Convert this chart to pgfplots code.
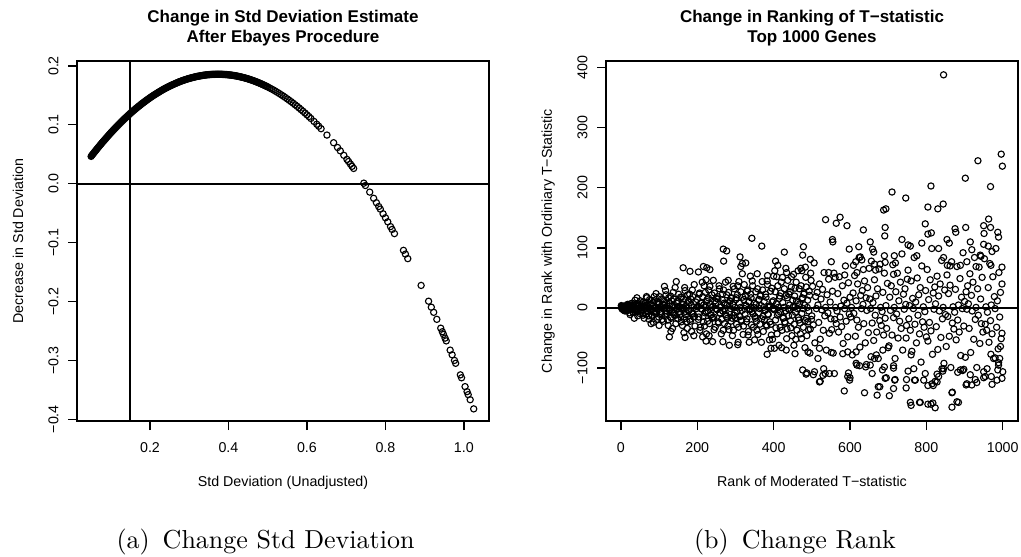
\documentclass[border=0pt]{standalone}
\usepackage{fontspec}
\usepackage{pgfplots}
\pgfplotsset{compat=1.18}
\newfontfamily\plotfont{Liberation Sans}
\newcommand\tickfont{\plotfont\fontsize{5.7}{6.8}\selectfont}
\newcommand\titlefont{\plotfont\bfseries\fontsize{6.8}{8}\selectfont}
\begin{document}
\begin{tikzpicture}
\useasboundingbox (0,0) rectangle (408.4pt,222.4pt);
\pgfplotsset{rstyle/.style={
  scale only axis, width=164.8pt, height=144pt, anchor=south west,
  axis line style={line width=0.5pt},
  tick align=outside, xtick pos=left, ytick pos=left,
  major tick length=3.6pt, tick style={line width=0.5pt, black},
  ticklabel style={font=\tickfont, inner sep=0pt},
  yticklabel style={rotate=90, anchor=south},
  xticklabel style={anchor=north},
  xticklabel shift=4.8pt, yticklabel shift=3.6pt,
  clip=true,
}, rmark/.style={only marks, mark=o, mark size=1.25pt, mark options={line width=0.45pt}, black},
   rdense/.style={only marks, mark=*, mark size=1.25pt, mark options={line width=0.45pt, fill=black}, black}}
% ---------------- left plot
\begin{axis}[rstyle, at={(30.8pt,54pt)},
  xmin=0.014, xmax=1.064, ymin=-0.403, ymax=0.2085,
  xtick={0.2,0.4,0.6,0.8,1.0}, xticklabels={0.2,0.4,0.6,0.8,1.0},
  ytick={-0.4,-0.3,-0.2,-0.1,0,0.1,0.2},
  yticklabels={−0.4,−0.3,−0.2,−0.1,0.0,0.1,0.2}]
% dense part of the curve (overlapping circles read as a solid band)
\addplot[rdense] coordinates {
(0.050,0.0465)(0.055,0.0508)(0.060,0.0550)(0.065,0.0592)(0.070,0.0633)(0.075,0.0673)(0.080,0.0712)(0.085,0.0751)(0.090,0.0789)(0.095,0.0827)(0.100,0.0864)(0.105,0.0900)(0.110,0.0935)(0.115,0.0970)(0.120,0.1004)(0.125,0.1038)(0.130,0.1071)(0.135,0.1103)(0.140,0.1134)(0.145,0.1165)(0.150,0.1195)(0.155,0.1225)(0.160,0.1254)(0.165,0.1282)(0.170,0.1309)(0.175,0.1336)(0.180,0.1362)(0.185,0.1388)(0.190,0.1412)(0.195,0.1437)(0.200,0.1460)(0.205,0.1483)(0.210,0.1505)(0.215,0.1526)(0.220,0.1547)(0.225,0.1567)(0.230,0.1587)(0.235,0.1606)(0.240,0.1624)(0.245,0.1641)(0.250,0.1658)(0.255,0.1674)(0.260,0.1689)(0.265,0.1704)(0.270,0.1718)(0.275,0.1732)(0.280,0.1745)(0.285,0.1757)(0.290,0.1768)(0.295,0.1779)(0.300,0.1789)(0.305,0.1798)(0.310,0.1807)(0.315,0.1815)(0.320,0.1823)(0.325,0.1829)(0.330,0.1835)(0.335,0.1841)(0.340,0.1846)(0.345,0.1850)(0.350,0.1853)(0.355,0.1856)(0.360,0.1858)(0.365,0.1859)(0.370,0.1860)(0.375,0.1860)(0.380,0.1860)(0.385,0.1858)(0.390,0.1856)(0.395,0.1854)(0.400,0.1850)(0.405,0.1847)(0.410,0.1842)(0.415,0.1837)(0.420,0.1831)(0.425,0.1824)(0.430,0.1817)(0.435,0.1809)(0.440,0.1800)(0.445,0.1791)(0.450,0.1781)(0.455,0.1770)(0.460,0.1759)
(0.0525,0.04865)(0.0575,0.0529)(0.0625,0.0571)(0.0675,0.06125)(0.0725,0.0653)(0.0775,0.06925)(0.0825,0.07315)(0.0875,0.0770)(0.0925,0.0808)(0.0975,0.08455)(0.1025,0.0882)(0.1075,0.09175)(0.1125,0.09525)(0.1175,0.0987)(0.1225,0.1021)(0.1275,0.10545)(0.1325,0.1087)(0.1375,0.11185)(0.1425,0.11495)(0.1475,0.1180)(0.1525,0.1210)(0.1575,0.12395)(0.1625,0.1268)(0.1675,0.12955)(0.1725,0.13225)(0.1775,0.1349)(0.1825,0.1375)(0.1875,0.1400)(0.1925,0.14245)(0.1975,0.14485)(0.2025,0.14715)(0.2075,0.1494)(0.2125,0.15155)(0.2175,0.15365)(0.2225,0.1557)(0.2275,0.1577)(0.2325,0.15965)(0.2375,0.1615)(0.2425,0.16325)(0.2475,0.16495)(0.2525,0.1666)(0.2575,0.16815)(0.2625,0.16965)(0.2675,0.1711)(0.2725,0.1725)(0.2775,0.17385)(0.2825,0.1751)(0.2875,0.17625)(0.2925,0.17735)(0.2975,0.1784)(0.3025,0.17935)(0.3075,0.18025)(0.3125,0.1811)(0.3175,0.1819)(0.3225,0.1826)(0.3275,0.1832)(0.3325,0.1838)(0.3375,0.18435)(0.3425,0.1848)(0.3475,0.18515)(0.3525,0.18545)(0.3575,0.1857)(0.3625,0.18585)(0.3675,0.18595)(0.3725,0.1860)(0.3775,0.1860)(0.3825,0.1859)(0.3875,0.1857)(0.3925,0.1855)(0.3975,0.1852)(0.4025,0.18485)(0.4075,0.18445)(0.4125,0.18395)(0.4175,0.1834)(0.4225,0.18275)(0.4275,0.18205)(0.4325,0.1813)(0.4375,0.18045)(0.4425,0.17955)(0.4475,0.1786)(0.4525,0.17755)(0.4575,0.17645)
};
\addplot[rmark] coordinates {
(0.4625,0.1753)(0.465,0.1747)(0.4675,0.17405)(0.470,0.1734)(0.4725,0.17275)(0.475,0.1721)(0.4775,0.1714)(0.480,0.1707)(0.4825,0.16995)(0.485,0.1692)(0.4875,0.16845)(0.490,0.1677)(0.4925,0.1669)(0.495,0.1661)(0.4975,0.1653)(0.500,0.1645)(0.505,0.1627)(0.510,0.1609)(0.515,0.1591)(0.520,0.1571)(0.525,0.1551)(0.530,0.1531)(0.535,0.1509)(0.540,0.1487)(0.545,0.1465)(0.550,0.1441)(0.555,0.1417)(0.560,0.1393)(0.565,0.1367)(0.570,0.1341)(0.575,0.1315)(0.580,0.1287)(0.585,0.1259)(0.590,0.1231)(0.595,0.1201)(0.600,0.1171)(0.605,0.1141)(0.610,0.1109)(0.618,0.1058)(0.625,0.1011)(0.630,0.0977)(0.636,0.0935)(0.651,0.0827)(0.668,0.0697)(0.678,0.0616)(0.685,0.0559)(0.694,0.0483)(0.702,0.0413)(0.706,0.0378)(0.711,0.0333)(0.715,0.0296)(0.719,0.0260)(0.745,0.0010)(0.749,-0.0030)(0.760,-0.0142)(0.770,-0.0247)(0.777,-0.0322)(0.783,-0.0387)(0.787,-0.0431)(0.794,-0.0510)(0.800,-0.0578)(0.806,-0.0647)(0.813,-0.0728)(0.817,-0.0776)(0.823,-0.0847)(0.846,-0.1131)(0.851,-0.1195)(0.857,-0.1272)(0.891,-0.1727)(0.910,-0.1995)(0.917,-0.2097)(0.923,-0.2184)(0.931,-0.2303)(0.941,-0.2453)(0.945,-0.2514)(0.948,-0.2560)(0.952,-0.2622)(0.955,-0.2669)(0.965,-0.2826)(0.970,-0.2905)(0.976,-0.3001)(0.979,-0.3050)(0.991,-0.3246)(0.994,-0.3296)(1.003,-0.3446)(1.008,-0.3531)(1.011,-0.3582)(1.016,-0.3668)(1.025,-0.3824)
};
\addplot[black, line width=0.8pt] coordinates {(0.014,0) (1.064,0)};
\addplot[black, line width=0.8pt] coordinates {(0.15,-0.403) (0.15,0.2085)};
\end{axis}
% ---------------- right plot
\begin{axis}[rstyle, at={(242.4pt,54pt)},
  xmin=-39, xmax=1040, ymin=-188, ymax=411,
  xtick={0,200,400,600,800,1000}, xticklabels={0,200,400,600,800,1000},
  ytick={-100,0,100,200,300,400},
  yticklabels={−100,0,100,200,300,400}]
\addplot[rdense] coordinates {
(1,4)(2,0)(3,-1)(4,-2)(5,0)(6,3)(7,-3)(8,-4)(9,3)(10,1)(11,-5)(12,0)(13,1)(14,3)(15,0)(16,-3)(17,6)(18,5)(19,-4)(20,-1)
};
\addplot[rmark] coordinates {
(22,0)(24,-11)(26,4)(28,-1)(30,8)(32,-7)(34,2)(36,-3)(38,6)(40,-5)
(42,17)(44,-13)(46,4)(48,0)(50,6)(52,1)(54,-5)(56,9)(58,-12)(60,3)
(62,-1)(64,9)(66,-10)(68,17)(70,-4)(72,0)(74,-19)(76,6)(78,-2)(80,13)
(82,-14)(84,3)(86,-6)(88,12)(90,-9)(92,24)(94,-19)(96,6)(98,0)(100,9)
(102,2)(104,-9)(106,15)(108,-19)(110,6)(112,-1)(114,11)(116,-14)(118,22)(120,-5)
(122,0)(124,-29)(126,9)(128,-3)(130,20)(132,-17)(134,4)(136,-7)(138,15)(140,-12)
(142,34)(144,-26)(146,8)(148,-1)(150,12)(152,2)(154,-11)(156,18)(158,-23)(160,7)
(162,-2)(164,15)(166,-18)(168,29)(170,-6)(172,0)(174,-34)(176,11)(178,-4)(180,23)
(182,-22)(184,5)(186,-9)(188,19)(190,-15)(192,39)(194,-30)(196,10)(198,-1)(200,14)
(21,1)(23,-8)(25,7)(27,-2)(29,3)(31,-6)(33,5)(35,-17)(37,13)(39,-4)(41,0)(43,-6)(45,-1)(47,5)(49,-9)(51,12)(53,-3)(55,1)(57,-9)(59,10)(61,-17)(63,4)(65,0)(67,19)(69,-6)(71,2)(73,-13)(75,14)(77,-3)(79,6)(81,-12)(83,9)(85,-24)(87,19)(89,-6)(91,0)(93,-9)(95,-2)(97,9)(99,-15)(101,19)(103,-6)(105,1)(107,-11)(109,14)(111,-22)(113,5)(115,0)(117,29)(119,-9)(121,3)(123,-20)(125,17)(127,-4)(129,7)(131,-15)(133,12)(135,-34)(137,26)(139,-8)(141,1)(143,-12)(145,-2)(147,11)(149,-18)(151,23)(153,-7)(155,2)(157,-15)(159,18)(161,-29)(163,6)(165,0)(167,34)(169,-11)(171,4)(173,-23)(175,22)(177,-5)(179,9)(181,-19)(183,15)(185,-39)(187,30)(189,-10)(191,1)(193,-14)
(201,2)(203,-19)(205,23)(207,-37)(209,8)(211,-1)(213,43)(215,-14)(217,5)(219,-30)(221,26)(223,-6)(225,11)(227,-22)(229,17)(231,-46)(233,36)(235,-12)(237,1)(239,-16)(241,3)(243,-15)(245,25)(247,-32)(249,9)(251,-2)(253,19)(255,-23)(257,37)(259,-8)(261,1)(263,-43)(265,14)(267,-5)(269,30)(271,-26)(273,6)(275,-11)(277,22)(279,-17)(281,46)(283,-36)(285,12)(287,-1)(289,16)
(291,-17)(293,6)(295,-37)(297,32)(299,-8)(301,14)(303,-27)(305,22)(307,-57)(309,44)(311,-14)(313,1)(315,-20)(317,-4)(319,18)(321,-30)(323,39)(325,-11)(327,3)(329,-23)(331,28)(333,-45)(335,10)(337,-1)(339,53)
(341,17)(343,-6)(345,37)(347,-32)(349,8)(351,-14)(353,27)(355,-22)(357,57)(359,-44)(361,14)(363,-1)(365,20)(367,4)(369,-18)(371,30)(373,-39)(375,11)(377,-3)(379,23)(381,-28)(383,45)(385,-10)(387,1)(389,-53)
(391,3)(393,-27)(395,33)(397,-52)(399,12)(401,-1)(403,62)(405,-20)(407,7)(409,-43)(411,37)(413,-9)(415,16)(417,-32)(419,25)(421,-66)(423,51)(425,-17)(427,1)(429,-23)(431,-5)(433,21)(435,-35)(437,46)(439,-13)
(441,-3)(443,27)(445,-33)(447,52)(449,-12)(451,1)(453,-62)(455,20)(457,-7)(459,43)(461,-37)(463,9)(465,-16)(467,32)(469,-25)(471,66)(473,-51)(475,17)(477,-1)(479,23)(481,5)(483,-21)(485,35)(487,-46)(489,13)(491,-36)(493,28)(495,-75)(497,58)(499,-19)
(202,3)(204,-15)(206,25)(208,-32)(210,9)(212,-2)(214,19)(216,-23)(218,37)(220,-8)(222,1)(224,-43)(226,14)(228,-5)(230,30)(232,-26)(234,6)(236,-11)(238,22)(240,-17)(242,46)(244,-36)(246,12)(248,-1)(250,16)
(252,-3)(254,15)(256,-25)(258,32)(260,-9)(262,2)(264,-19)(266,23)(268,-37)(270,8)(272,-1)(274,43)(276,-14)(278,5)(280,-30)(282,26)(284,-6)(286,11)(288,-22)(290,17)(292,-46)(294,36)(296,-12)(298,1)(300,-16)
(302,17)(304,-6)(306,37)(308,-32)(310,8)(312,-14)(314,27)(316,-22)(318,57)(320,-44)(322,14)(324,-1)(326,20)(328,4)(330,-18)(332,30)(334,-39)(336,11)(338,-3)(340,23)(342,-28)(344,45)(346,-10)(348,1)(350,-53)
(352,-17)(354,6)(356,-37)(358,32)(360,-8)(362,14)(364,-27)(366,22)(368,-57)(370,44)(372,-14)(374,1)(376,-20)(378,-4)(380,18)(382,-30)(384,39)(386,-11)(388,3)(390,-23)(392,28)(394,-45)(396,10)(398,-1)(400,53)
(402,-3)(404,27)(406,-33)(408,52)(410,-12)(412,1)(414,-62)(416,20)(418,-7)(420,43)(422,-37)(424,9)(426,-16)(428,32)(430,-25)(432,66)(434,-51)(436,17)(438,-1)(440,23)(442,5)(444,-21)(446,35)(448,-46)(450,13)
(452,3)(454,-27)(456,33)(458,-52)(460,12)(462,-1)(464,62)(466,-20)(468,7)(470,-43)(472,37)(474,-9)(476,16)(478,-32)(480,25)(482,-66)(484,51)(486,-17)(488,1)(490,-23)(492,-5)(494,21)(496,-35)(498,46)(500,-13)
(502,36)(504,-28)(506,75)(508,-58)(510,19)(512,-1)(514,26)(516,5)(518,-24)(520,40)(522,-52)(524,15)(526,-3)(528,31)(530,-37)(532,59)(534,-13)(536,1)(538,-70)(540,22)(542,-8)(544,48)(546,-42)(548,10)(550,-18)
(552,-36)(554,28)(556,-75)(558,58)(560,-19)(562,1)(564,-26)(566,-5)(568,24)(570,-40)(572,52)(574,-15)(576,3)(578,-31)(580,37)(582,-59)(584,13)(586,-1)(588,70)(590,-22)(592,8)(594,-48)(596,42)(598,-10)(600,18)
(602,-15)(604,1)(606,-78)(608,25)(610,-9)(612,54)(614,-47)(616,12)(618,-20)(620,40)(622,-32)(624,84)(626,-65)(628,21)(630,-1)(632,29)(634,6)(636,-26)(638,45)(640,-58)(642,17)(644,-4)(646,34)(648,-41)(650,66)
(652,15)(654,-1)(656,78)(658,-25)(660,9)(662,-54)(664,47)(666,-12)(668,20)(670,-40)(672,32)(674,-84)(676,65)(678,-21)(680,1)(682,-29)(684,-6)(686,26)(688,-45)(690,58)(692,-17)(694,4)(696,-34)(698,41)(700,-66)
(702,-63)(704,18)(706,-4)(708,37)(710,-45)(712,72)(714,-16)(716,1)(718,-84)(720,27)(722,-10)(724,58)(726,-50)(728,12)(730,-22)(732,43)(734,-34)(736,90)(738,-70)(740,23)(742,-2)(744,32)(746,6)(748,-29)(750,48)
(752,63)(754,-18)(756,4)(758,-37)(760,45)(762,-72)(764,16)(766,-1)(768,84)(770,-27)(772,10)(774,-58)(776,50)(778,-12)(780,22)(782,-43)(784,34)(786,-90)(788,70)(790,-23)(792,2)(794,-32)(796,-6)(798,29)(800,-48)
(802,64)(804,-55)(806,14)(808,-24)(810,47)(812,-38)(814,99)(816,-77)(818,25)(820,-2)(822,35)(824,7)(826,-31)(828,53)(830,-69)(832,20)(834,-5)(836,40)(838,-49)(840,79)(842,-18)(844,1)(846,-92)(848,30)(850,-11)
(852,-64)(854,55)(856,-14)(858,24)(860,-47)(862,38)(864,-99)(866,77)(868,-25)(870,2)(872,-35)(874,-7)(876,31)(878,-53)(880,69)(882,-20)(884,5)(886,-40)(888,49)(890,-79)(892,18)(894,-1)(896,92)(898,-30)(900,11)
(902,-82)(904,27)(906,-2)(908,37)(910,7)(912,-34)(914,57)(916,-74)(918,21)(920,-5)(922,43)(924,-52)(926,84)(928,-19)(930,1)(932,-99)(934,32)(936,-12)(938,68)(940,-59)(942,15)(944,-26)(946,51)(948,-40)(950,106)
(952,82)(954,-27)(956,2)(958,-37)(960,-7)(962,34)(964,-57)(966,74)(968,-21)(970,5)(972,-43)(974,52)(976,-84)(978,19)(980,-1)(982,99)(984,-32)(986,12)(988,-68)(990,59)(992,-15)(994,26)(996,-51)(998,40)(1000,-106)
(845,388)(996,256)(999,236)(935,245)(902,216)(968,202)(812,203)(844,173)(830,165)(804,168)(746,183)(710,193)(688,163)(694,165)(692,134)(691,120)(635,130)(574,151)(564,141)(592,137)(536,147)(554,114)(555,110)(551,77)(623,102)(598,98)(653,110)(659,98)(662,93)(679,73)(664,73)(690,87)(716,87)(736,114)(752,105)(758,103)(775,87)(788,108)(797,140)(804,123)(813,125)(832,99)(854,114)(860,108)(845,84)(875,132)(877,126)(903,134)(915,110)(919,97)(941,88)(943,86)(950,137)(951,124)(963,148)(968,134)(962,103)(972,94)(987,126)(989,118)(998,68)(969,71)(930,69)(906,77)(889,71)(862,70)(855,71)(719,75)(714,56)(692,76)(667,63)(635,64)(618,59)(609,71)(615,77)(627,85)(631,80)(478,102)(476,88)(496,81)(428,93)(405,78)(411,71)(369,103)(343,116)(312,85)(318,74)(327,75)(314,69)(268,98)(277,95)(269,78)(233,64)(216,69)(225,67)(203,60)(181,61)(163,67)(384,54)(434,59)(452,56)(474,62)(483,68)(544,59)(561,51)(586,55)(114,36)(145,44)(223,47)
(79,-26)(100,-29)(127,-48)(131,-39)(168,-49)(165,-41)(191,-46)(214,-48)(223,-55)(383,-77)(393,-67)(402,-67)(476,-103)(485,-110)(456,-76)(433,-70)(336,-57)(306,-61)(284,-62)(240,-56)(267,-56)(490,-73)
(760,-162)(585,-138)(638,-141)(671,-145)(678,-131)(714,-134)(717,-120)(747,-133)(752,-105)(769,-120)(695,-116)(658,-109)(599,-120)(594,-114)(520,-123)(529,-112)(507,-106)(546,-109)(559,-109)(616,-92)(625,-96)(643,-94)(690,-98)(714,-96)(655,-81)(664,-84)(686,-70)(516,-84)(520,-67)(551,-74)(581,-76)(594,-73)(616,-73)(669,-78)(760,-78)(747,-50)
(784,-157)(812,-160)(823,-166)(867,-165)(880,-156)(867,-141)(771,-120)(797,-109)(793,-120)(815,-126)(828,-123)(832,-114)(845,-101)(889,-103)(898,-102)(915,-111)(906,-126)(919,-128)(932,-124)(950,-106)(954,-114)(972,-127)(985,-120)(998,-117)(989,-95)(980,-83)(994,-64)(998,-42)
(703,-146)(758,-157)(782,-157)(804,-160)(817,-158)(868,-140)(884,-157)(804,-129)(823,-122)(818,-129)(748,-119)(718,-119)(692,-117)(674,-131)(600,-116)(596,-108)(535,-109)(522,-122)(531,-101)(504,-111)(487,-108)(950,-116)(928,-119)(904,-128)(882,-107)(895,-104)(843,-105)(828,-110)(841,-101)(767,-101)(714,-100)(685,-103)(653,-95)(641,-98)(618,-95)(959,-101)(970,-114)(987,-103)(989,-91)(992,-84)(969,-77)
};
\addplot[black, line width=0.8pt] coordinates {(-39,0) (1040,0)};
\end{axis}
% ---------------- titles and labels
\node[font=\titlefont, anchor=base] at (113.2pt,213.3pt) {Change in Std Deviation Estimate};
\node[font=\titlefont, anchor=base] at (113.2pt,205.3pt) {After Ebayes Procedure};
\node[font=\titlefont, anchor=base] at (324.8pt,213.3pt) {Change in Ranking of T−statistic};
\node[font=\titlefont, anchor=base] at (324.8pt,205.3pt) {Top 1000 Genes};
\node[font=\tickfont, anchor=base] at (113.2pt,27.7pt) {Std Deviation (Unadjusted)};
\node[font=\tickfont, anchor=base] at (324.8pt,27.7pt) {Rank of Moderated T−statistic};
\node[font=\tickfont, anchor=base, rotate=90] at (9.3pt,126pt) {Decrease in Std Deviation};
\node[font=\tickfont, anchor=base, rotate=90] at (220.7pt,126pt) {Change in Rank with Ordiniary T−Statistic};
\node[font=\fontsize{10.4}{12.5}\selectfont, anchor=base] at (106.2pt,3.0pt) {(a)\enspace Change Std Deviation};
\node[font=\fontsize{10.4}{12.5}\selectfont, anchor=base] at (318pt,3.0pt) {(b)\enspace Change Rank};
\end{tikzpicture}
\end{document}
